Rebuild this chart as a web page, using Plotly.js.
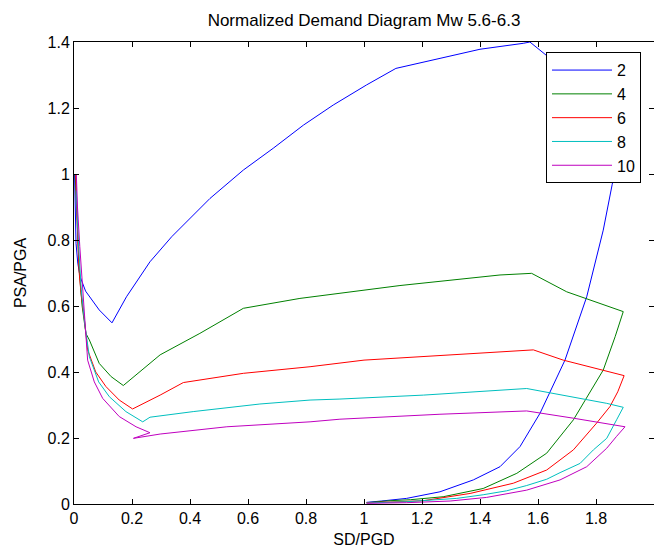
<!DOCTYPE html>
<html>
<head>
<meta charset="utf-8">
<script src="https://cdn.plot.ly/plotly-3.0.1.min.js"></script>
<style>
  html, body { margin: 0; padding: 0; background: #fff; }
  #chart { width: 654px; height: 548px; }
</style>
</head>
<body>
<div id="chart"></div>
<script>
// Normalized demand curves (PSA/PGA against SD/PGD) for ductility 2..10
const ductility = ['2', '4', '6', '8', '10'];

const sd2 = [0.002, 0.004, 0.007, 0.013, 0.021, 0.04, 0.087, 0.131, 0.181, 0.262, 0.337, 0.469, 0.584, 0.687, 0.791, 0.894, 1.009, 1.110, 1.40, 1.549, 1.572, 1.624, 1.76, 1.898, 1.88, 1.856, 1.825, 1.768, 1.693, 1.607, 1.538, 1.469, 1.377, 1.262, 1.147, 1.06, 1.009];
const psa2 = [1.0, 0.9, 0.79, 0.73, 0.689, 0.645, 0.588, 0.549, 0.628, 0.734, 0.81, 0.926, 1.012, 1.078, 1.148, 1.209, 1.27, 1.32, 1.378, 1.396, 1.40, 1.363, 1.26, 1.16, 1.06, 0.969, 0.83, 0.628, 0.436, 0.275, 0.174, 0.113, 0.073, 0.037, 0.017, 0.009, 0.005];

const sd4 = [0.004, 0.008, 0.012, 0.018, 0.028, 0.041, 0.053, 0.087, 0.128, 0.17, 0.297, 0.434, 0.584, 0.779, 1.124, 1.469, 1.578, 1.699, 1.894, 1.866, 1.825, 1.722, 1.63, 1.527, 1.411, 1.273, 1.16, 1.09, 1.009];
const psa4 = [1.0, 0.9, 0.8, 0.709, 0.6, 0.517, 0.497, 0.426, 0.386, 0.359, 0.452, 0.517, 0.593, 0.623, 0.662, 0.694, 0.699, 0.643, 0.583, 0.507, 0.406, 0.255, 0.154, 0.093, 0.047, 0.022, 0.013, 0.01, 0.004];

const sd6 = [0.006, 0.009, 0.013, 0.018, 0.024, 0.036, 0.047, 0.075, 0.11, 0.156, 0.202, 0.297, 0.377, 0.584, 0.814, 1.0, 1.25, 1.469, 1.584, 1.687, 1.897, 1.875, 1.848, 1.802, 1.722, 1.63, 1.515, 1.366, 1.205, 1.09, 1.009];
const psa6 = [1.0, 0.9, 0.8, 0.7, 0.64, 0.558, 0.467, 0.4, 0.356, 0.315, 0.288, 0.33, 0.368, 0.396, 0.416, 0.436, 0.45, 0.462, 0.467, 0.436, 0.389, 0.34, 0.295, 0.245, 0.164, 0.103, 0.063, 0.032, 0.01, 0.006, 0.004];

const sd8 = [0.008, 0.012, 0.016, 0.025, 0.038, 0.053, 0.085, 0.122, 0.179, 0.237, 0.262, 0.411, 0.641, 0.814, 0.917, 1.205, 1.561, 1.837, 1.894, 1.871, 1.837, 1.791, 1.745, 1.676, 1.63, 1.561, 1.492, 1.411, 1.32, 1.147, 1.009];
const psa8 = [0.95, 0.85, 0.78, 0.65, 0.54, 0.446, 0.37, 0.325, 0.28, 0.249, 0.263, 0.28, 0.303, 0.315, 0.318, 0.33, 0.35, 0.305, 0.293, 0.255, 0.199, 0.164, 0.123, 0.095, 0.075, 0.056, 0.04, 0.028, 0.017, 0.007, 0.003];

const sd10 = [0.008, 0.012, 0.02, 0.03, 0.04, 0.047, 0.07, 0.099, 0.156, 0.214, 0.262, 0.205, 0.297, 0.527, 0.814, 0.917, 1.262, 1.561, 1.722, 1.9, 1.871, 1.837, 1.768, 1.676, 1.561, 1.423, 1.297, 1.147, 1.009];
const psa10 = [1.0, 0.9, 0.78, 0.64, 0.53, 0.436, 0.37, 0.32, 0.265, 0.234, 0.216, 0.199, 0.212, 0.234, 0.249, 0.257, 0.272, 0.282, 0.26, 0.234, 0.205, 0.169, 0.113, 0.073, 0.042, 0.02, 0.009, 0.004, 0.002];

const sdSets = [sd2, sd4, sd6, sd8, sd10];
const psaSets = [psa2, psa4, psa6, psa8, psa10];
const colors = ['#0000ff', '#008000', '#ff0000', '#00bfbf', '#bf00bf'];

const traces = ductility.map((name, i) => ({
  type: 'scatter',
  mode: 'lines',
  name: name,
  x: sdSets[i],
  y: psaSets[i],
  line: { color: colors[i], width: 1 }
}));

const axisCommon = {
  ticks: 'inside',
  ticklen: 5,
  tickcolor: '#000',
  showline: true,
  linecolor: '#000',
  linewidth: 1,
  mirror: 'allticks',
  showgrid: false,
  zeroline: false,
  tickfont: { size: 16, color: '#000' }
};

const layout = {
  width: 654,
  height: 548,
  margin: { l: 74, r: 0, t: 42, b: 44 },
  paper_bgcolor: '#fff',
  plot_bgcolor: '#fff',
  font: { family: 'Liberation Sans, Arial, sans-serif', size: 16, color: '#000' },
  showlegend: true,
  title: {
    text: 'Normalized Demand Diagram Mw 5.6-6.3',
    x: 0.5, xref: 'paper', xanchor: 'center',
    y: 1 - 20 / 548, yref: 'container', yanchor: 'middle',
    font: { size: 17, color: '#000' }
  },
  xaxis: Object.assign({}, axisCommon, {
    range: [0, 2], tick0: 0, dtick: 0.2,
    title: { text: 'SD/PGD', standoff: 8, font: { size: 16 } }
  }),
  yaxis: Object.assign({}, axisCommon, {
    range: [0, 1.4], tick0: 0, dtick: 0.2,
    title: { text: 'PSA/PGA', standoff: 16, font: { size: 16 } }
  }),
  legend: {
    x: 0.8138, y: 0.978, xanchor: 'left', yanchor: 'top',
    itemwidth: 60,
    bgcolor: '#fff', bordercolor: '#000', borderwidth: 1,
    font: { size: 16, color: '#000' }
  }
};

Plotly.newPlot('chart', traces, layout, { staticPlot: true, displayModeBar: false });
</script>
</body>
</html>
